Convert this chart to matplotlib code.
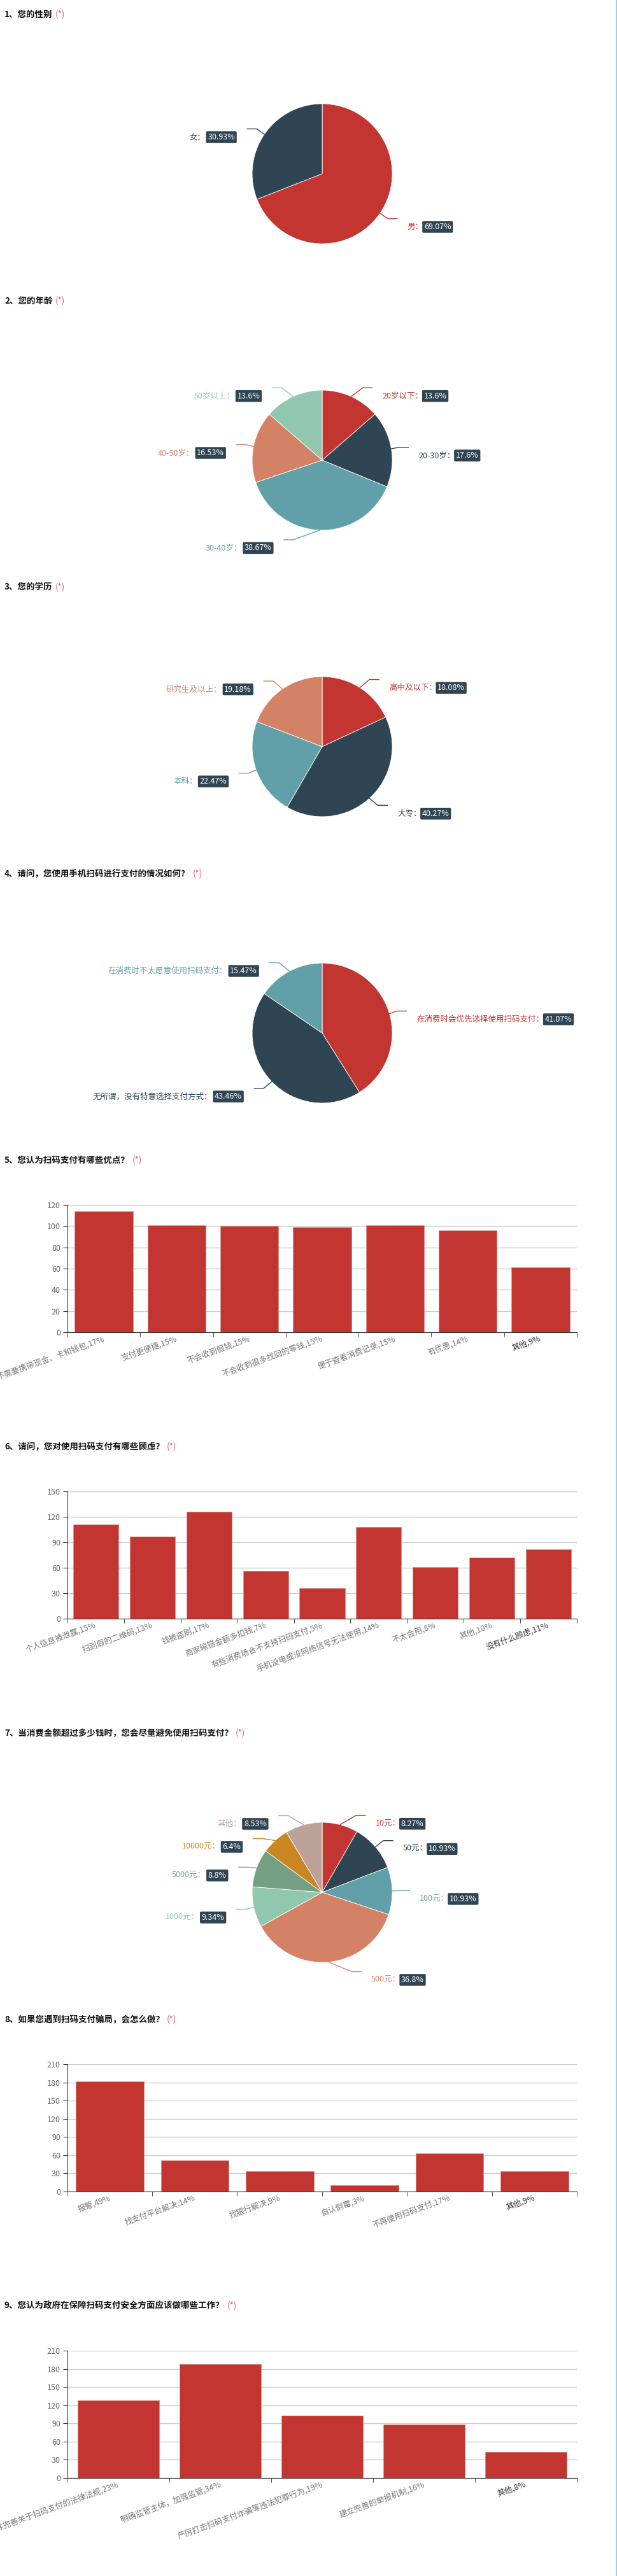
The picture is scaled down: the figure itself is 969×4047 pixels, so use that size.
import numpy as np
import matplotlib
matplotlib.use('Agg')
import matplotlib.pyplot as plt

plt.rcParams['font.family'] = ['Noto Sans CJK SC', 'DejaVu Sans']

W, H = 970, 4047
PALETTE = ['#c23531', '#2f4554', '#61a0a8', '#d48265', '#91c7ae',
           '#749f83', '#ca8622', '#bda29a']
BAR_RED = '#c23531'
BOX = '#2f4554'

# 题目
titles = [
    '1、您的性别',
    '2、您的年龄',
    '3、您的学历',
    '4、请问，您使用手机扫码进行支付的情况如何？',
    '5、您认为扫码支付有哪些优点？',
    '6、请问，您对使用扫码支付有哪些顾虑？',
    '7、当消费金额超过多少钱时，您会尽量避免使用扫码支付？',
    '8、如果您遇到扫码支付骗局，会怎么做？',
    '9、您认为政府在保障扫码支付安全方面应该做哪些工作？',
]

# 第1题
q1_names = ['男', '女']
q1_pcts = [69.07, 30.93]
# 第2题
q2_names = ['20岁以下', '20-30岁', '30-40岁', '40-50岁', '50岁以上']
q2_pcts = [13.6, 17.6, 38.67, 16.53, 13.6]
# 第3题
q3_names = ['高中及以下', '大专', '本科', '研究生及以上']
q3_pcts = [18.08, 40.27, 22.47, 19.18]
# 第4题
q4_names = ['在消费时会优先选择使用扫码支付', '无所谓，没有特意选择支付方式',
            '在消费时不太愿意使用扫码支付']
q4_pcts = [41.07, 43.46, 15.47]
# 第5题
q5_labels = ['不需要携带现金、卡和钱包,17%', '支付更便捷,15%', '不会收到假钱,15%',
             '不会收到很多找回的零钱,15%', '便于查看消费记录,15%', '有优惠,14%', '其他,9%']
q5_counts = [114, 101, 100, 99, 101, 96, 61]
# 第6题
q6_labels = ['个人信息被泄露,15%', '扫到假的二维码,13%', '钱被盗刷,17%',
             '商家输错金额多扣钱,7%', '有些消费场合不支持扫码支付,5%',
             '手机没电或没网络信号无法使用,14%', '不太会用,8%', '其他,10%',
             '没有什么顾虑,11%']
q6_counts = [111, 97, 126, 56, 36, 108, 61, 72, 82]
# 第7题
q7_names = ['10元', '50元', '100元', '500元', '1000元', '5000元', '10000元', '其他']
q7_pcts = [8.27, 10.93, 10.93, 36.8, 9.34, 8.8, 6.4, 8.53]
# 第8题
q8_labels = ['报警,49%', '找支付平台解决,14%', '找银行解决,9%', '自认倒霉,3%',
             '不再使用扫码支付,17%', '其他,9%']
q8_counts = [182, 51, 34, 11, 63, 34]
# 第9题
q9_labels = ['制定并完善关于扫码支付的法律法规,23%', '明确监管主体，加强监管,34%',
             '严厉打击扫码支付诈骗等违法犯罪行为,19%', '建立完善的举报机制,16%', '其他,8%']
q9_counts = [128, 188, 103, 88, 43]

fig = plt.figure(figsize=(W / 100, H / 100), dpi=100)


def px_axes(left, top, width, height):
    return fig.add_axes([left / W, 1 - (top + height) / H, width / W, height / H])


# 背景层：标题和右侧边线
bg = fig.add_axes([0, 0, 1, 1])
bg.set_xlim(0, W)
bg.set_ylim(H, 0)
bg.axis('off')
bg.axvline(968.5, color='#8ccaf2', lw=1.3)
for k, t in enumerate(titles):
    tt = bg.text(7, 23 + 450 * k, t, fontsize=9.7, fontweight='bold',
                 va='center', color='#111111')
    bg.annotate('(*)', xy=(1, 0.5), xycoords=tt, xytext=(4, 0),
                textcoords='offset pixels', ha='left', va='center',
                fontsize=9.7, color='#e8606a')

CX = 506
R = 110
LEN1, LEN2 = 15, 15
LABEL_H = 36
PAD = 3


def adjust_side(lst):
    # 仿照 echarts 饼图标签的防重叠处理
    lst.sort(key=lambda d: d['y'])
    n = len(lst)

    def shift_up(end, delta):
        for j in range(end, -1, -1):
            lst[j]['y'] -= delta
            if j > 0 and lst[j]['y'] > lst[j - 1]['y'] + LABEL_H:
                break

    def shift_down(start, end, delta):
        for j in range(start, end):
            lst[j]['y'] += delta
            if j > start and j + 1 < end and lst[j + 1]['y'] > lst[j]['y'] + LABEL_H:
                shift_up(j, delta / 2)
                return
        shift_up(end - 1, delta / 2)

    last_y = -1e9
    for i in range(n):
        delta = lst[i]['y'] - last_y
        if delta < 0:
            shift_down(i, n, -delta)
        last_y = lst[i]['y'] + LABEL_H

    def change_x(sub, is_down):
        last = 1e9 if is_down else 0
        for d in sub:
            dy = abs(d['y'])
            if dy < R + LEN1:
                dx = np.sqrt((R + LEN1 + LEN2) ** 2 - dy ** 2)
            else:
                dx = abs(d['x'])
            if is_down and dx >= last:
                dx = last - 10
            if not is_down and dx <= last:
                dx = last + 10
            d['x'] = d['side'] * dx
            last = dx

    change_x([d for d in lst if d['y'] < 0], False)
    change_x([d for d in lst if d['y'] >= 0], True)


def pie_section(cy, names, pcts):
    ax = px_axes(CX - 450, cy - 200, 900, 400)
    cols = PALETTE[:len(pcts)]
    ax.pie(pcts, colors=cols, startangle=90, counterclock=False, radius=R,
           wedgeprops=dict(edgecolor='white', linewidth=0.6))
    ax.set_xlim(-450, 450)
    ax.set_ylim(-200, 200)
    ax.set_aspect('equal')
    ax.axis('off')

    total = sum(pcts)
    acc = 0
    items = []
    for i, v in enumerate(pcts):
        mid = np.radians(90 - (acc + v / 2) / total * 360)
        acc += v
        dx, dy = np.cos(mid), -np.sin(mid)
        side = -1 if dx < 0 else 1
        items.append(dict(i=i, dx=dx, dy=dy, side=side,
                          x=(R + LEN1) * dx + side * (LEN2 + 5),
                          y=(R + LEN1) * dy))
    for side in (-1, 1):
        adjust_side([d for d in items if d['side'] == side])

    box = dict(boxstyle='round,pad=0.22,rounding_size=0.15', fc=BOX, ec='none')
    for d in items:
        c = cols[d['i']]
        s = d['side']
        x0, y0 = R * d['dx'], -R * d['dy']
        xe = d['x'] - s * 3
        yl = -d['y']
        ax.plot([x0, xe - s * LEN2, xe], [y0, yl, yl], color=c, lw=1)
        ty = yl - 13
        pct = f'{pcts[d["i"]]:g}%'
        if s > 0:
            t = ax.text(d['x'] + 13, ty, names[d['i']] + '：', color=c,
                        ha='left', va='center', fontsize=9)
            ax.annotate(pct, xy=(1, 0.5), xycoords=t, xytext=(1, 0),
                        textcoords='offset pixels', ha='left', va='center',
                        color='white', fontsize=9, bbox=box)
        else:
            b = ax.text(d['x'] - 13 - PAD, ty, pct, color='white',
                        ha='right', va='center', fontsize=9, bbox=box)
            ax.annotate(names[d['i']] + '：', xy=(0, 0.5), xycoords=b,
                        xytext=(-(PAD + 1), 0), textcoords='offset pixels',
                        ha='right', va='center', color=c, fontsize=9)


def bar_section(top, labels, counts, ymax, step):
    ax = px_axes(106, top, 800, 200)
    n = len(counts)
    xs = np.arange(n)
    ax.bar(xs, counts, width=0.8, color=BAR_RED, edgecolor='#dc8c89',
           linewidth=0.6, zorder=3)
    ax.set_xlim(-0.5, n - 0.5)
    ax.set_ylim(0, ymax)
    ax.set_yticks(np.arange(0, ymax + 1, step))
    ax.yaxis.grid(True, color='#cccccc', lw=1)
    ax.set_axisbelow(True)
    for sp in ('top', 'right'):
        ax.spines[sp].set_visible(False)
    for sp in ('left', 'bottom'):
        ax.spines[sp].set_color('#333333')
    ax.set_xticks(xs)
    ax.set_xticklabels(labels, rotation=20, ha='right', va='center',
                       rotation_mode='anchor', fontsize=9, color='#777777')
    ax.get_xticklabels()[-1].set_color('#333333')
    ax.set_xticks(np.arange(-0.5, n), minor=True)
    ax.tick_params(axis='x', which='major', length=0, pad=7)
    ax.tick_params(axis='x', which='minor', length=5, color='#333333')
    ax.tick_params(axis='y', length=5, color='#333333', labelcolor='#666666',
                   labelsize=9, pad=3)


pie_section(273, q1_names, q1_pcts)
pie_section(723, q2_names, q2_pcts)
pie_section(1173, q3_names, q3_pcts)
pie_section(1623, q4_names, q4_pcts)
bar_section(1893, q5_labels, q5_counts, 120, 20)
bar_section(2343, q6_labels, q6_counts, 150, 30)
pie_section(2973, q7_names, q7_pcts)
bar_section(3243, q8_labels, q8_counts, 210, 30)
bar_section(3693, q9_labels, q9_counts, 210, 30)

fig.savefig('out.png', dpi=100)
